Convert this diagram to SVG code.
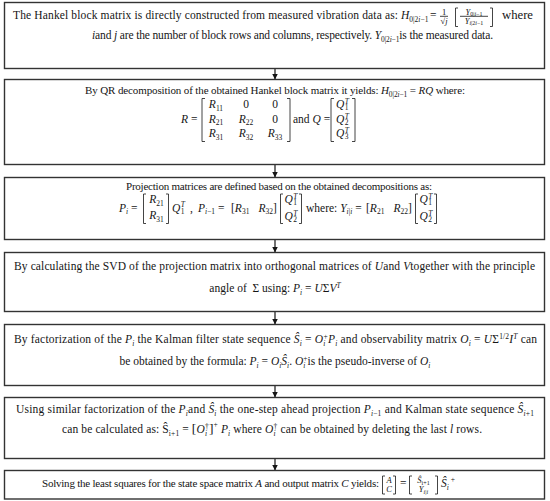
<svg xmlns="http://www.w3.org/2000/svg" width="550" height="501" viewBox="0 0 550 501">
<style>
.b{fill:#fff;stroke:#333;stroke-width:1.4}
.t{font-family:"Liberation Serif","Times New Roman",serif;font-size:11.5px;fill:#151515}
.md{font-size:11px}
.i{font-style:italic}
.n{font-style:normal}
.s{font-size:7.5px}
.f{font-family:"Liberation Serif","Times New Roman",serif;font-size:8.5px;fill:#151515}
.ss{font-size:6px}
.k{fill:none;stroke:#151515;stroke-width:0.8}
.c{fill:none;stroke:#151515;stroke-width:1.2}
</style>
<defs>
<marker id="ah" viewBox="0 0 10 10" refX="10" refY="5" markerWidth="6" markerHeight="6" markerUnits="userSpaceOnUse" orient="auto">
<path d="M0,0 L10,5 L0,10 z" fill="#151515"/>
</marker>
</defs>
<rect width="550" height="501" fill="#fff"/>

<g id="connectors">
<line class="c" x1="275" y1="68.5" x2="275" y2="79.5" marker-end="url(#ah)"/>
<line class="c" x1="275" y1="164.5" x2="275" y2="177.5" marker-end="url(#ah)"/>
<line class="c" x1="275" y1="239.5" x2="275" y2="252.5" marker-end="url(#ah)"/>
<line class="c" x1="275" y1="311.5" x2="275" y2="324.5" marker-end="url(#ah)"/>
<line class="c" x1="275" y1="385.5" x2="275" y2="397.5" marker-end="url(#ah)"/>
<line class="c" x1="275" y1="458.5" x2="275" y2="470.5" marker-end="url(#ah)"/>
</g>

<g id="n1">
<rect class="b" x="4.5" y="2.5" width="540" height="66"/>
<text class="t" x="13" y="19" textLength="385" lengthAdjust="spacing">The Hankel block matrix is directly constructed from measured vibration data as:</text>
<text class="t" x="401" y="19"><tspan class="i">H</tspan><tspan class="s" dy="2.5">0|2</tspan><tspan class="s i">i</tspan><tspan class="s">−1</tspan></text>
<text class="t" x="430" y="19">=</text>
<text class="f" x="444" y="14.5" text-anchor="middle">1</text>
<line class="k" x1="440" y1="16.3" x2="448" y2="16.3"/>
<text class="f" x="444" y="24" text-anchor="middle">√<tspan class="i">j</tspan></text>
<path class="k" d="M458,8 h-2.5 v18.5 h2.5 M490,8 h2.5 v18.5 h-2.5"/>
<text class="f" x="474" y="14.5" text-anchor="middle"><tspan class="i">Y</tspan><tspan class="ss" dy="1.5">0|</tspan><tspan class="ss i">i</tspan><tspan class="ss">−1</tspan></text>
<line class="k" x1="460" y1="16.3" x2="488" y2="16.3"/>
<text class="f" x="474" y="23.5" text-anchor="middle"><tspan class="i">Y</tspan><tspan class="ss i" dy="1.5">i</tspan><tspan class="ss">|2</tspan><tspan class="ss i">i</tspan><tspan class="ss">−1</tspan></text>
<text class="t" x="502" y="19" textLength="31" lengthAdjust="spacingAndGlyphs">where</text>
<text class="t" x="92" y="39" textLength="401" lengthAdjust="spacing"><tspan class="i">i</tspan>and <tspan class="i">j</tspan> are the number of block rows and columns, respectively. <tspan class="i">Y</tspan><tspan class="s" dy="2.5">0|2</tspan><tspan class="s i">i</tspan><tspan class="s">−1</tspan><tspan dy="-2.5">is the measured data.</tspan></text>
</g>

<g id="n2">
<rect class="b" x="4.5" y="79.5" width="540" height="85"/>
<text class="t md" x="85" y="94" textLength="380" lengthAdjust="spacing">By QR decomposition of the obtained Hankel block matrix it yields: <tspan class="i">H</tspan><tspan class="s" dy="2.5">0|2</tspan><tspan class="s i">i</tspan><tspan class="s">−1</tspan><tspan dy="-2.5"> = </tspan><tspan class="i">RQ</tspan> where:</text>
<text class="t" x="181" y="122.5"><tspan class="i">R</tspan> =</text>
<path class="k" d="M205,98.5 h-3 v43 h3 M287,98.5 h3 v43 h-3"/>
<text class="t" x="216" y="108" text-anchor="middle"><tspan class="i">R</tspan><tspan class="s" dy="2.5">11</tspan></text>
<text class="t" x="216" y="122.5" text-anchor="middle"><tspan class="i">R</tspan><tspan class="s" dy="2.5">21</tspan></text>
<text class="t" x="216" y="137" text-anchor="middle"><tspan class="i">R</tspan><tspan class="s" dy="2.5">31</tspan></text>
<text class="t" x="246" y="108" text-anchor="middle">0</text>
<text class="t" x="246" y="122.5" text-anchor="middle"><tspan class="i">R</tspan><tspan class="s" dy="2.5">22</tspan></text>
<text class="t" x="246" y="137" text-anchor="middle"><tspan class="i">R</tspan><tspan class="s" dy="2.5">32</tspan></text>
<text class="t" x="275" y="108" text-anchor="middle">0</text>
<text class="t" x="275" y="122.5" text-anchor="middle">0</text>
<text class="t" x="275" y="137" text-anchor="middle"><tspan class="i">R</tspan><tspan class="s" dy="2.5">33</tspan></text>
<text class="t" x="293" y="122.5">and <tspan class="i">Q</tspan> =</text>
<path class="k" d="M334,98.5 h-3 v43 h3 M352,98.5 h3 v43 h-3"/>
<text class="t i" x="336" y="108">Q<tspan class="s" x="344.8" dy="-4">T</tspan><tspan class="s n" x="344.8" dy="6">1</tspan></text>
<text class="t i" x="336" y="122.5">Q<tspan class="s" x="344.8" dy="-4">T</tspan><tspan class="s n" x="344.8" dy="6">2</tspan></text>
<text class="t i" x="336" y="137">Q<tspan class="s" x="344.8" dy="-4">T</tspan><tspan class="s n" x="344.8" dy="6">3</tspan></text>
</g>

<g id="n3">
<rect class="b" x="4.5" y="177.5" width="540" height="62"/>
<text class="t md" x="126" y="190" textLength="306" lengthAdjust="spacing">Projection matrices are defined based on the obtained decompositions as:</text>
<text class="t" x="119" y="211.5"><tspan class="i">P</tspan><tspan class="s i" dy="2.5">i</tspan><tspan dy="-2.5"> =</tspan></text>
<path class="k" d="M146,194 h-2.5 v29.5 h2.5 M166,194 h2.5 v29.5 h-2.5"/>
<text class="t" x="156.5" y="203" text-anchor="middle"><tspan class="i">R</tspan><tspan class="s" dy="2.5">21</tspan></text>
<text class="t" x="156.5" y="219" text-anchor="middle"><tspan class="i">R</tspan><tspan class="s" dy="2.5">31</tspan></text>
<text class="t i" x="172" y="211.5">Q<tspan class="s" x="180.8" dy="-4.5">T</tspan><tspan class="s n" x="180.8" dy="7">1</tspan></text>
<text class="t" x="190" y="211.5">,</text>
<text class="t" x="198" y="211.5"><tspan class="i">P</tspan><tspan class="s i" dy="2.5">i</tspan><tspan class="s">−1</tspan><tspan dy="-2.5"> =</tspan></text>
<text class="t" x="231" y="211.5">[<tspan class="i">R</tspan><tspan class="s" dy="2.5">31</tspan><tspan class="i" dy="-2.5" dx="9">R</tspan><tspan class="s" dy="2.5">32</tspan><tspan dy="-2.5">]</tspan></text>
<path class="k" d="M283,194 h-2.5 v29.5 h2.5 M299,194 h2.5 v29.5 h-2.5"/>
<text class="t i" x="284.5" y="203">Q<tspan class="s" x="293.3" dy="-4">T</tspan><tspan class="s n" x="293.3" dy="5.5">1</tspan></text>
<text class="t i" x="284.5" y="220">Q<tspan class="s" x="293.3" dy="-4">T</tspan><tspan class="s n" x="293.3" dy="5.5">2</tspan></text>
<text class="t" x="306" y="211.5">where: <tspan class="i">Y</tspan><tspan class="s i" dy="2.5">i</tspan><tspan class="s">|</tspan><tspan class="s i">i</tspan><tspan dy="-2.5"> =</tspan></text>
<text class="t" x="366" y="211.5">[<tspan class="i">R</tspan><tspan class="s" dy="2.5">21</tspan><tspan class="i" dy="-2.5" dx="9">R</tspan><tspan class="s" dy="2.5">22</tspan><tspan dy="-2.5">]</tspan></text>
<path class="k" d="M418,194 h-2.5 v29.5 h2.5 M434,194 h2.5 v29.5 h-2.5"/>
<text class="t i" x="419.5" y="203">Q<tspan class="s" x="428.3" dy="-4">T</tspan><tspan class="s n" x="428.3" dy="5.5">1</tspan></text>
<text class="t i" x="419.5" y="220">Q<tspan class="s" x="428.3" dy="-4">T</tspan><tspan class="s n" x="428.3" dy="5.5">2</tspan></text>
</g>

<g id="n4">
<rect class="b" x="4.5" y="252.5" width="540" height="59"/>
<text class="t" x="14" y="270" textLength="521" lengthAdjust="spacing">By calculating the SVD of the projection matrix into orthogonal matrices of <tspan class="i">U</tspan>and <tspan class="i">V</tspan>together with the principle</text>
<text class="t" x="275" y="292" text-anchor="middle">angle of &#160;Σ using: <tspan class="i">P</tspan><tspan class="s i" dy="2.5">i</tspan><tspan dy="-2.5"> = </tspan><tspan class="i">U</tspan>Σ<tspan class="i">V</tspan><tspan class="s i" dy="-4.5">T</tspan></text>
</g>

<g id="n5">
<rect class="b" x="4.5" y="324.5" width="540" height="61"/>
<text class="t" x="14" y="343" textLength="523" lengthAdjust="spacing">By factorization of the <tspan class="i">P</tspan><tspan class="s i" dy="2.5">i</tspan><tspan dy="-2.5"> the Kalman filter state sequence </tspan><tspan class="i">Ŝ</tspan><tspan class="s i" dy="2.5">i</tspan><tspan dy="-2.5"> = </tspan><tspan class="i">O</tspan><tspan class="s i" dy="2.5">i</tspan><tspan class="s" dx="-2" dy="-6.5">+</tspan><tspan class="i" dy="4">P</tspan><tspan class="s i" dy="2.5">i</tspan><tspan dy="-2.5"> and observability matrix </tspan><tspan class="i">O</tspan><tspan class="s i" dy="2.5">i</tspan><tspan dy="-2.5"> = </tspan><tspan class="i">U</tspan>Σ<tspan class="s" dy="-4.5">1/2</tspan><tspan class="i" dy="4.5">I</tspan><tspan class="s i" dy="-4.5">T</tspan><tspan dy="4.5"> can</tspan></text>
<text class="t" x="275" y="365" text-anchor="middle">be obtained by the formula: <tspan class="i">P</tspan><tspan class="s i" dy="2.5">i</tspan><tspan dy="-2.5"> = </tspan><tspan class="i">O</tspan><tspan class="s i" dy="2.5">i</tspan><tspan class="i" dy="-2.5">Ŝ</tspan><tspan class="s i" dy="2.5">i</tspan><tspan dy="-2.5">. </tspan><tspan class="i">O</tspan><tspan class="s i" dy="2.5">i</tspan><tspan class="s" dx="-2" dy="-6.5">+</tspan><tspan dy="4">is the pseudo-inverse of </tspan><tspan class="i">O</tspan><tspan class="s i" dy="2.5">i</tspan></text>
</g>

<g id="n6">
<rect class="b" x="4.5" y="397.5" width="540" height="61"/>
<text class="t" x="16" y="413" textLength="518" lengthAdjust="spacing">Using similar factorization of the <tspan class="i">P</tspan><tspan class="s i" dy="2.5">i</tspan><tspan dy="-2.5">and </tspan><tspan class="i">Ŝ</tspan><tspan class="s i" dy="2.5">i</tspan><tspan dy="-2.5"> the one-step ahead projection </tspan><tspan class="i">P</tspan><tspan class="s i" dy="2.5">i</tspan><tspan class="s">−1</tspan><tspan dy="-2.5"> and Kalman state sequence </tspan><tspan class="i">Ŝ</tspan><tspan class="s i" dy="2.5">i</tspan><tspan class="s">+1</tspan></text>
<text class="t" x="62" y="433" textLength="420" lengthAdjust="spacing">can be calculated as: Ŝ<tspan class="s" dy="2.5">i+1</tspan><tspan dy="-2.5"> = </tspan><tspan style="font-size:13.5px">[</tspan><tspan class="i">O</tspan><tspan class="s i" dy="2.5">i</tspan><tspan class="s" dx="-2" dy="-6.5">†</tspan><tspan style="font-size:13.5px" dy="4">]</tspan><tspan class="s" dy="-6">+</tspan><tspan dy="6"> </tspan><tspan class="i">P</tspan><tspan class="s i" dy="2.5">i</tspan><tspan dy="-2.5"> where </tspan><tspan class="i">O</tspan><tspan class="s i" dy="2.5">i</tspan><tspan class="s" dx="-2" dy="-6.5">†</tspan><tspan dy="4"> can be obtained by deleting the last </tspan><tspan class="i">l</tspan> rows.</text>
</g>

<g id="n7">
<rect class="b" x="4.5" y="470.5" width="540" height="28.5"/>
<text class="t md" x="42" y="487" textLength="337" lengthAdjust="spacing">Solving the least squares for the state space matrix <tspan class="i">A</tspan> and output matrix <tspan class="i">C</tspan> yields:</text>
<path class="k" d="M385,476 h-2.5 v18 h2.5 M393,476 h2.5 v18 h-2.5"/>
<text class="f i" x="389" y="483" text-anchor="middle">A</text>
<text class="f i" x="389" y="492" text-anchor="middle">C</text>
<text class="t" x="400" y="487">=</text>
<path class="k" d="M412,476 h-2.5 v18 h2.5 M435,476 h2.5 v18 h-2.5"/>
<text class="f" x="423.5" y="483" text-anchor="middle"><tspan class="i">Ŝ</tspan><tspan class="ss" dy="1.5">i+1</tspan></text>
<text class="f" x="423.5" y="492" text-anchor="middle"><tspan class="i">Y</tspan><tspan class="ss i" dy="1.5">i</tspan><tspan class="ss">|</tspan><tspan class="ss i">i</tspan></text>
<text class="t" x="441" y="487"><tspan class="i">Ŝ</tspan><tspan class="s i" dy="2.5">i</tspan><tspan class="s" dx="2" dy="-7.5">+</tspan></text>
</g>
</svg>
